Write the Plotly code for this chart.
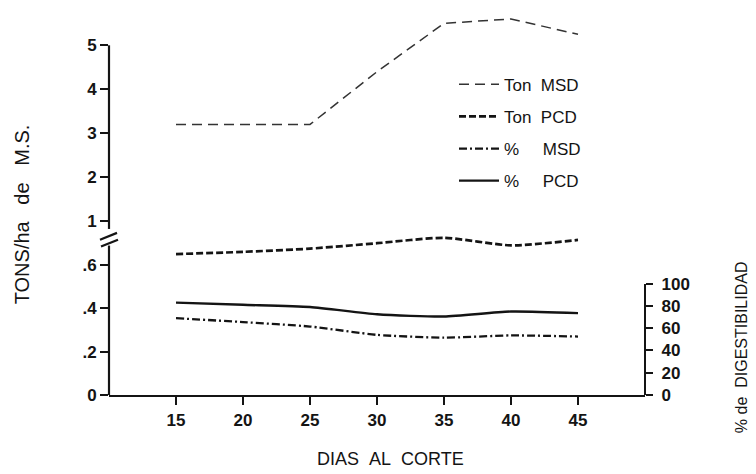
import plotly.graph_objects as go

# ---- data ----
days = [15, 20, 25, 30, 35, 40, 45]
ton_msd = [3.2, 3.2, 3.2, 4.4, 5.5, 5.6, 5.25]
ton_pcd = [0.65, 0.66, 0.675, 0.70, 0.725, 0.69, 0.715]
pct_msd = [69, 65.5, 61.5, 54, 51.5, 53.5, 52.5]
pct_pcd = [83, 81, 79, 72.5, 70.5, 75, 73.5]

x_ticks = [15, 20, 25, 30, 35, 40, 45]
upper_ticks = [1, 2, 3, 4, 5]
lower_ticks = [0, 0.2, 0.4, 0.6]
lower_labels = ["0", ".2", ".4", ".6"]
right_ticks = [0, 20, 40, 60, 80, 100]

# ---- layout geometry ----
# The page body has an 8px margin, so the figure is 8px smaller than the window
# and all targets below are given in window pixels.
OFF = 8
W, H = 756 - OFF, 474 - OFF
X_LEFT, X_RIGHT = 109, 645      # window px of left / right axes
Y_TOP, Y_BASE = 8, 395          # window px of plot top / baseline
L = X_LEFT - OFF
R = W - (X_RIGHT - OFF)
T = Y_TOP - OFF
B = H - (Y_BASE - OFF)
PW, PH = X_RIGHT - X_LEFT, Y_BASE - Y_TOP


def py(ywin):
    return (Y_BASE - ywin) / PH


def px(xwin):
    return (xwin - X_LEFT) / PW


INK = "#141414"
FONT = "Liberation Sans"
NB = "\u00a0"

fig = go.Figure()

fig.add_trace(go.Scatter(
    x=days, y=ton_msd, name="Ton" + NB * 2 + "MSD", xaxis="x", yaxis="y",
    mode="lines", line=dict(color="#333333", width=1.5, dash="10px,6px"),
    legendgroup="a"))
fig.add_trace(go.Scatter(
    x=days, y=ton_pcd, name="Ton" + NB * 2 + "PCD", xaxis="x", yaxis="y2",
    mode="lines", line=dict(color=INK, width=2.7, dash="7px,3px", shape="spline", smoothing=0.6),
    legendgroup="b"))
fig.add_trace(go.Scatter(
    x=days, y=pct_msd, name="%" + NB * 5 + "MSD", xaxis="x", yaxis="y3",
    mode="lines", line=dict(color=INK, width=2.3, dash="8px,3px,2px,3px", shape="spline", smoothing=0.6),
    legendgroup="c"))
fig.add_trace(go.Scatter(
    x=days, y=pct_pcd, name="%" + NB * 5 + "PCD", xaxis="x", yaxis="y3",
    mode="lines", line=dict(color=INK, width=2.4, shape="spline", smoothing=0.6),
    legendgroup="d"))

tickfont = dict(family=FONT, size=17, color=INK, weight="bold")

Y_BREAK = 225
upper_bot = py(Y_BREAK)
v_up_bot = 1 - (Y_BREAK - 217) / 45.0
v_up_top = 5 + (37 - Y_TOP) / 45.0
v_low_top = (Y_BASE - Y_BREAK) / 44.4 * 0.2

fig.update_layout(
    width=W, height=H,
    margin=dict(l=L, r=R, t=T, b=B, pad=0),
    paper_bgcolor="white", plot_bgcolor="white",
    showlegend=True,
    legend=dict(x=px(454), y=py(59), xanchor="left", yanchor="top",
                font=dict(family=FONT, size=17, color=INK),
                bgcolor="rgba(0,0,0,0)", tracegroupgap=7, itemwidth=40),
    xaxis=dict(domain=[0, 1], range=[10, 50], anchor="y2",
               showline=True, linewidth=2.2, linecolor=INK,
               ticks="outside", ticklen=8, tickwidth=2.2, tickcolor=INK,
               tickvals=x_ticks, tickfont=tickfont, showgrid=False, zeroline=False),
    yaxis=dict(domain=[upper_bot, 1], range=[v_up_bot, v_up_top], anchor="x",
               showline=False, ticks="outside", ticklen=8, tickwidth=2.2, tickcolor=INK,
               tickvals=upper_ticks, tickfont=tickfont, showgrid=False, zeroline=False),
    yaxis2=dict(domain=[0, upper_bot], range=[0, v_low_top], anchor="x",
                showline=False, ticks="outside", ticklen=8, tickwidth=2.2, tickcolor=INK,
                tickvals=lower_ticks, ticktext=lower_labels, tickfont=tickfont,
                showgrid=False, zeroline=False),
    yaxis3=dict(domain=[0, py(281)], range=[0, 100], anchor="free", position=1,
                side="right", showline=True, linewidth=2.2, linecolor=INK,
                ticks="outside", ticklen=7, tickwidth=2.2, tickcolor=INK,
                ticklabelstandoff=5,
                tickvals=right_ticks, tickfont=tickfont, showgrid=False, zeroline=False),
)

shapes = [
    # upper left axis segment (ends at the "5" tick)
    dict(type="line", xref="paper", yref="paper", x0=0, x1=0, y0=py(Y_BREAK), y1=py(37),
         line=dict(color=INK, width=2.2)),
    # lower left axis segment
    dict(type="line", xref="paper", yref="paper", x0=0, x1=0, y0=py(Y_BASE), y1=py(242),
         line=dict(color=INK, width=2.2)),
    # axis break marks
    dict(type="line", xref="paper", yref="paper", x0=px(100), x1=px(117), y0=py(236), y1=py(229),
         line=dict(color=INK, width=2.2)),
    dict(type="line", xref="paper", yref="paper", x0=px(101), x1=px(118), y0=py(243), y1=py(236),
         line=dict(color=INK, width=2.2)),
]
fig.update_layout(shapes=shapes)

annos = [
    dict(text="TONS/ha" + NB * 3 + "de" + NB * 3 + "M.S.", xref="paper", yref="paper",
         x=px(22), y=py(210), xanchor="center", yanchor="middle",
         textangle=-90, showarrow=False,
         font=dict(family=FONT, size=20, color=INK)),
    dict(text="%" + NB + "de" + NB * 2 + "DIGESTIBILIDAD", xref="paper", yref="paper",
         x=px(741), y=py(346), xanchor="center", yanchor="middle",
         textangle=-90, showarrow=False,
         font=dict(family=FONT, size=16, color=INK)),
    dict(text="DIAS" + NB * 2 + "AL" + NB * 2 + "CORTE", xref="paper", yref="paper",
         x=px(390), y=py(461), xanchor="center", yanchor="middle", showarrow=False,
         font=dict(family=FONT, size=18, color=INK)),
]
fig.update_layout(annotations=annos)

fig.write_html("out.html")
